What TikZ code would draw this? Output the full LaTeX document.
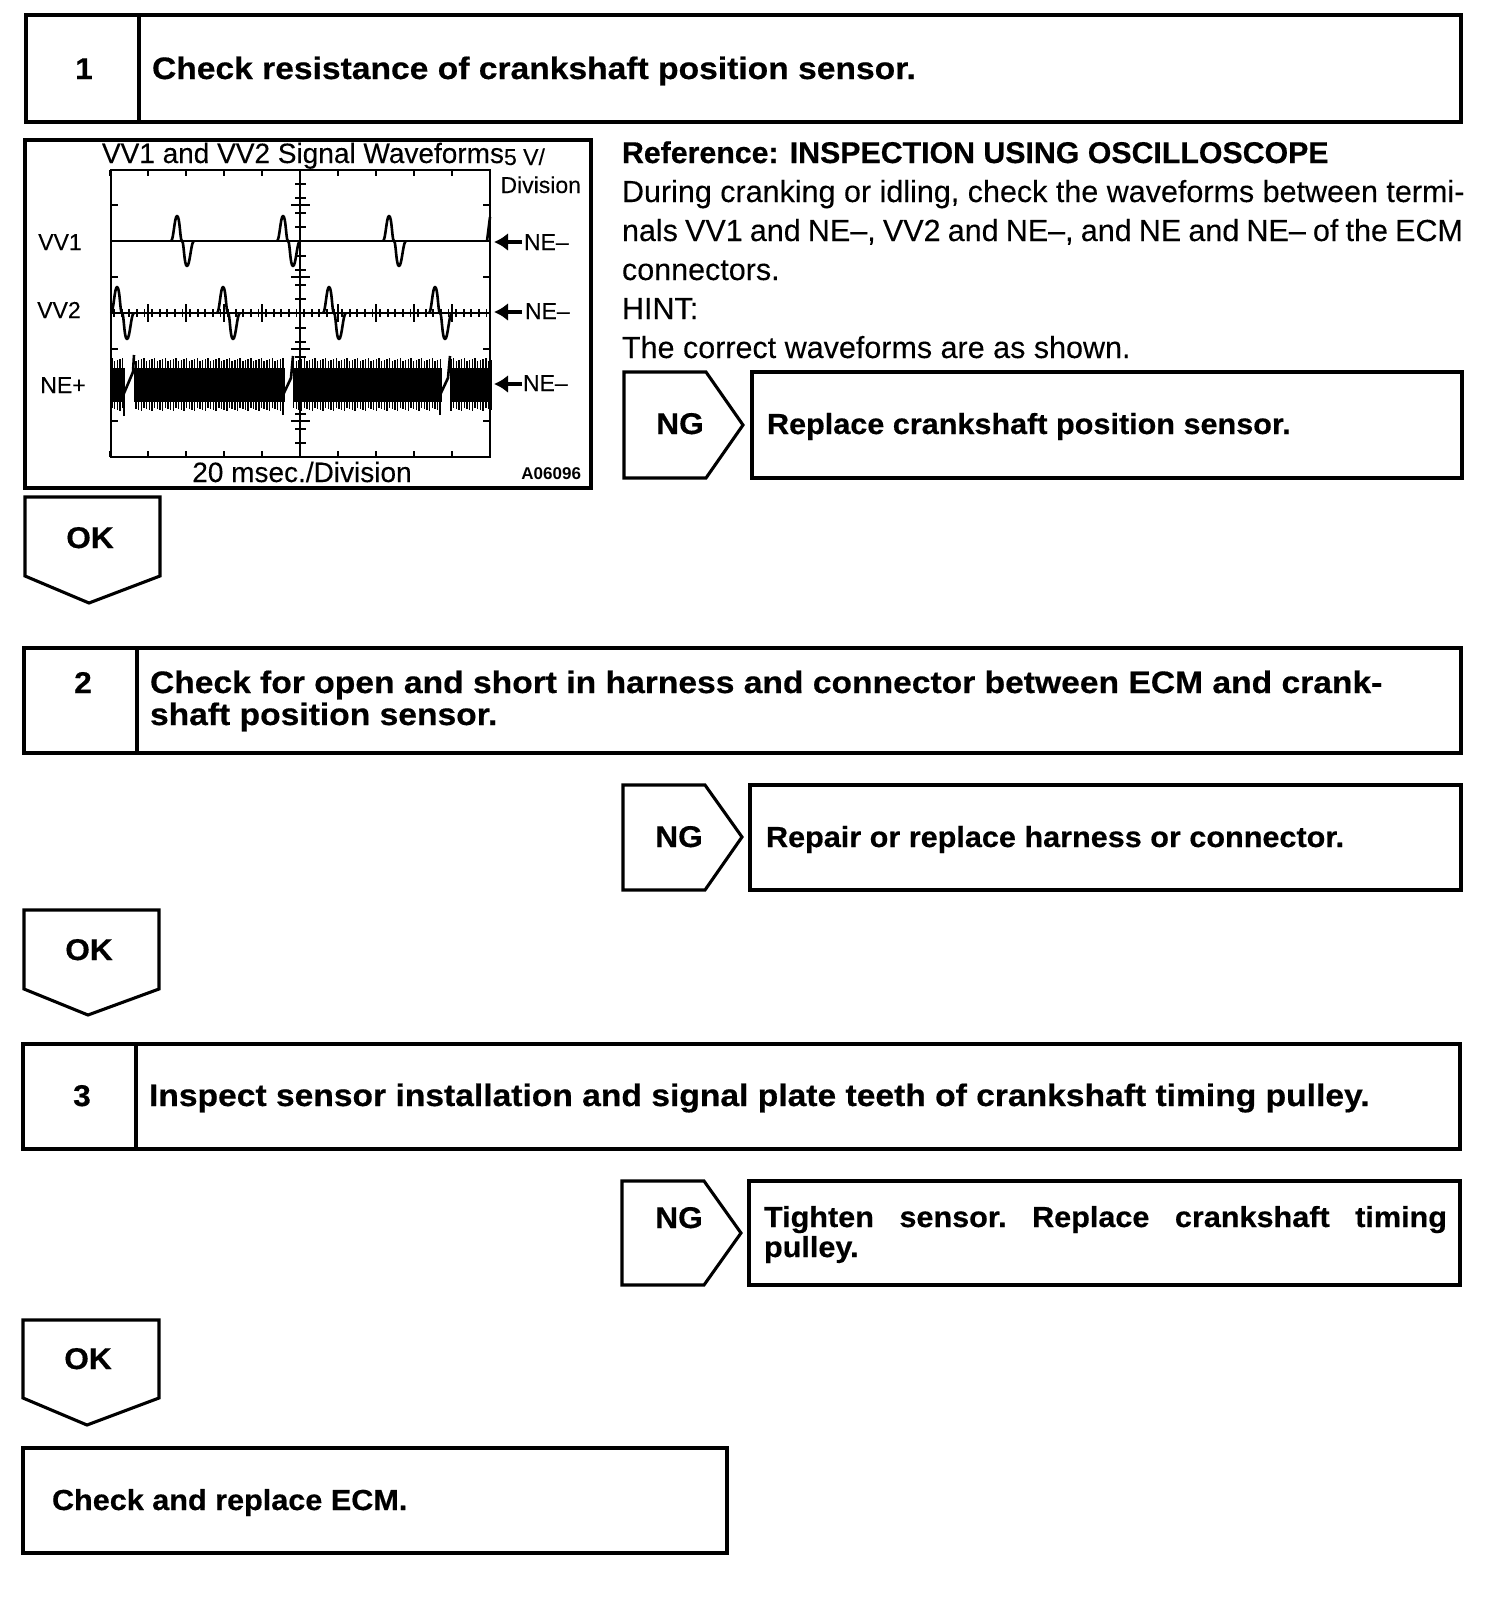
\documentclass[tikz,border=0pt]{standalone}
\usepackage{fontspec}
\setmainfont{Liberation Sans}
\newfontfamily\hbfont[BoldFeatures={FakeStretch=1.084,FakeBold=0.5}]{Liberation Sans}
\newfontfamily\nbfont[BoldFeatures={FakeStretch=1.055,FakeBold=0.5}]{Liberation Sans}
\newfontfamily\rbfont[BoldFeatures={FakeStretch=1.01,FakeBold=0.5}]{Liberation Sans}
\newfontfamily\bdfont[FakeBold=0.15]{Liberation Sans}
\newcommand{\bhead}{\hbfont\fontsize{31}{32}\selectfont\bfseries}
\newcommand{\bnote}{\nbfont\fontsize{29}{30}\selectfont\bfseries}
\newcommand{\bmark}{\nbfont\fontsize{30}{31}\selectfont\bfseries}
\newcommand{\bodytxt}{\bdfont\fontsize{30.5}{31}\selectfont}
\newcommand{\smalltxt}{\bdfont\fontsize{23}{24}\selectfont}
\tikzset{
  x=1pt,y=-1pt,
  frame/.style={draw=black,line width=3.1pt,line join=miter,fill=white},
  lab/.style={inner sep=0pt,outer sep=0pt,anchor=base west,text=black},
  labc/.style={inner sep=0pt,outer sep=0pt,anchor=base,text=black},
  labe/.style={inner sep=0pt,outer sep=0pt,anchor=base east,text=black},
  trace/.style={line width=2.6pt,line join=round},
  thin tick/.style={line width=1.8pt},
  arr/.style={line width=3.4pt,-{Latex[length=14pt,width=18pt]}},
}
\usetikzlibrary{arrows.meta}
\newcommand{\pulse}[3]{% start x, baseline, scale
  \draw[trace] (#1,#2) .. controls (#1+2.5,#2) and (#1+3.5,#2-#3) .. (#1+6,#2-#3)
     .. controls (#1+9,#2-#3) and (#1+9,#2) .. (#1+11,#2)
     .. controls (#1+13,#2) and (#1+13,#2+#3) .. (#1+16,#2+#3)
     .. controls (#1+19,#2+#3) and (#1+20,#2) .. (#1+23,#2);}
\begin{document}
\begin{tikzpicture}
\useasboundingbox (0,0) rectangle (1504,1612);
\fill[white] (0,0) rectangle (1504,1612);

% Step 1
\draw[frame] (26,15) rectangle (1461,122);
\draw[frame] (139,15) -- (139,122);
\node[labc] (n1) at (84,79) {\bmark 1};
\node[lab] (t1) at (152,79) {\bhead Check resistance of crankshaft position sensor.};

% Scope
\draw[frame] (25,140) rectangle (591,488);
\draw[line width=2.6pt] (111,170) rectangle (490,457);
\foreach \v in {205,277,349,421}{
  \draw[thin tick] (111,\v) -- (118,\v);
  \draw[thin tick] (483,\v) -- (490,\v);}
\foreach \i in {-5,...,5}{
  \draw[thin tick] ({300+38*\i},170) -- ({300+38*\i},176);
  \draw[thin tick] ({300+38*\i},451) -- ({300+38*\i},457);}
\foreach \i in {-9,...,9}{
  \draw[thin tick] (295,{313.5+\i*14.4}) -- (306,{313.5+\i*14.4});}
\foreach \v in {205,277,349,421}{\draw[thin tick] (291,\v) -- (310,\v);}
\draw[line width=2.2pt] (300,170) -- (300,457);
% VV1
\draw[trace] (111,241) -- (490,241);
\foreach \s in {171,277,383}{\pulse{\s}{241}{25}}
\draw[trace] (487,241) -- (490,217);
% VV2
\draw[trace] (111,313) -- (490,313);
\foreach \i in {0,...,49}{
  \draw[thin tick] ({114+\i*7.6},309) -- ({114+\i*7.6},317);}
\foreach \i in {-4,...,4}{
  \draw[thin tick] ({300+38*\i},304) -- ({300+38*\i},322);}
\foreach \s in {111,217,323,429}{\pulse{\s}{313}{26}}
% NE
\fill (112,368) rectangle (125,402);
\fill (134,368) rectangle (285,402);
\fill (293,368) rectangle (442,402);
\fill (450,368) rectangle (490,402);
\foreach \i in {0,...,142}{
  \pgfmathsetmacro{\xx}{112+\i*2.67}
  \pgfmathtruncatemacro{\gap}{(\xx>125 && \xx<134) || (\xx>285 && \xx<293) || (\xx>442 && \xx<450) ? 1 : 0}
  \ifnum\gap=0
    \pgfmathsetmacro{\ya}{358+mod(\i*7,4)}
    \pgfmathsetmacro{\yb}{408+mod(\i*5,4)}
    \draw[line width=1.4pt] (\xx,\ya) -- (\xx,\yb);
  \fi}
\draw[trace] (122,398) -- (133,372) -- (134,355);
\draw[line width=2.6pt] (124,416) -- (124,390);
\draw[trace] (283,395) -- (291,378) -- (293,356);
\draw[line width=2.6pt] (283,415) -- (283,388);
\draw[trace] (440,395) -- (448,378) -- (450,356);
\draw[line width=2.6pt] (440,415) -- (440,388);
% scope labels
\node[labc] (stitle) at (303,163) {\bdfont\fontsize{28}{29}\selectfont VV1 and VV2 Signal Waveforms};
\node[lab] (s5v) at (504,165) {\smalltxt 5 V/};
\node[labe] (sdiv) at (581,193) {\smalltxt Division};
\node[labc] (svv1) at (60,250) {\smalltxt VV1};
\node[labc] (svv2) at (59,318) {\smalltxt VV2};
\node[labc] (sne) at (63,393) {\smalltxt NE+};
\node[lab] (ne1) at (524,250) {\smalltxt NE–};
\node[lab] (ne2) at (525,319) {\smalltxt NE–};
\node[lab] (ne3) at (523,391) {\smalltxt NE–};
\coordinate (a1) at (522,242); \coordinate (b1) at (494,242);
\coordinate (a2) at (522,312); \coordinate (b2) at (494,312);
\coordinate (a3) at (522,384); \coordinate (b3) at (494,384);
\draw[arr] (a1) -- (b1);
\draw[arr] (a2) -- (b2);
\draw[arr] (a3) -- (b3);
\node[labc] (s20) at (302,482) {\bdfont\fontsize{28}{29}\selectfont 20 msec./Division};
\node[labe] (sid) at (581,479) {\fontsize{17}{18}\selectfont\bfseries A06096};

% Reference text
\node[lab] (r1) at (622,163) {\rbfont\fontsize{30}{31}\selectfont\bfseries Reference: INSPECTION USING OSCILLOSCOPE};
\node[lab] (r2) at (622,202) {\bodytxt During cranking or idling, check the waveforms between termi-};
\node[lab] (r3) at (622,241) {\hbox to 841pt{\bodytxt\spaceskip=7.5pt plus 4pt minus 4pt nals VV1 and NE–, VV2 and NE–, and NE and NE– of the ECM}};
\node[lab] (r4) at (622,280) {\bodytxt connectors.};
\node[lab] (r5) at (622,319) {\bodytxt HINT:};
\node[lab] (r6) at (622,358) {\bodytxt The correct waveforms are as shown.};

% NG 1
\draw[frame] (624,372) -- (706,372) -- (743,425) -- (706,478) -- (624,478) -- cycle;
\draw[frame] (752,372) rectangle (1462,478);
\node[labc] (ng1) at (680,434) {\bmark NG};
\node[lab] (ngt1) at (767,434) {\bnote Replace crankshaft position sensor.};

% OK 1
\draw[frame] (25,497) -- (160,497) -- (160,576) -- (89,603) -- (25,576) -- cycle;
\node[labc] (ok1) at (90,548) {\bmark OK};

% Step 2
\draw[frame] (24,648) rectangle (1461,753);
\draw[frame] (137,648) -- (137,753);
\node[labc] (n2) at (83,693) {\bmark 2};
\node[lab] (t2a) at (150,693) {\bhead Check for open and short in harness and connector between ECM and crank-};
\node[lab] (t2b) at (150,725) {\bhead shaft position sensor.};

% NG 2
\draw[frame] (623,785) -- (705,785) -- (742,837) -- (705,890) -- (623,890) -- cycle;
\draw[frame] (750,785) rectangle (1461,890);
\node[labc] (ng2) at (679,847) {\bmark NG};
\node[lab] (ngt2) at (766,847) {\bnote Repair or replace harness or connector.};

% OK 2
\draw[frame] (24,910) -- (159,910) -- (159,989) -- (88,1015) -- (24,989) -- cycle;
\node[labc] (ok2) at (89,960) {\bmark OK};

% Step 3
\draw[frame] (23,1044) rectangle (1460,1149);
\draw[frame] (136,1044) -- (136,1149);
\node[labc] (n3) at (82,1106) {\bmark 3};
\node[lab] (t3) at (149,1106) {\bhead Inspect sensor installation and signal plate teeth of crankshaft timing pulley.};

% NG 3
\draw[frame] (622,1181) -- (704,1181) -- (741,1233) -- (704,1285) -- (622,1285) -- cycle;
\draw[frame] (749,1181) rectangle (1460,1285);
\node[labc] (ng3) at (679,1228) {\bmark NG};
\node[lab] (ngt3a) at (764,1227) {\hbox to 683pt{\bnote Tighten\hfill sensor.\hfill Replace\hfill crankshaft\hfill timing}};
\node[lab] (ngt3b) at (764,1257) {\bnote pulley.};

% OK 3
\draw[frame] (23,1320) -- (159,1320) -- (159,1398) -- (87,1425) -- (23,1398) -- cycle;
\node[labc] (ok3) at (88,1369) {\bmark OK};

% Final
\draw[frame] (23,1448) rectangle (727,1553);
\node[lab] (fin) at (52,1510) {\bnote Check and replace ECM.};
\end{tikzpicture}
\end{document}
